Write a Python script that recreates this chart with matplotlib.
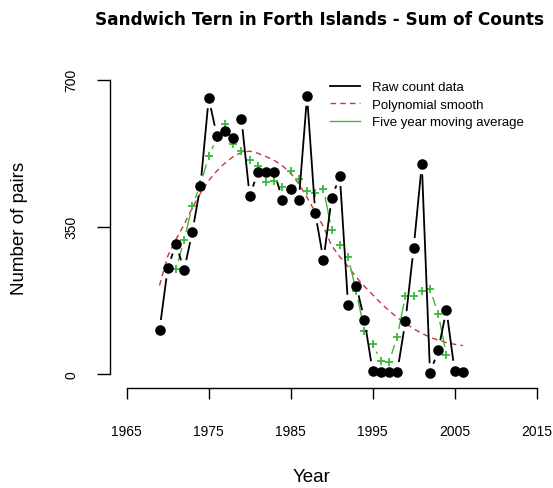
import numpy as np
import matplotlib
matplotlib.use('Agg')
import matplotlib.pyplot as plt
from matplotlib.lines import Line2D

plt.rcParams['font.family'] = ['Liberation Sans', 'DejaVu Sans']

# values
years = list(range(1969, 2007))
raw_counts = [104, 251, 309, 247, 337, 448, 656, 567, 579, 561,
              606, 423, 480, 480, 480, 414, 441, 414, 662, 382,
              271, 418, 471, 164, 210, 128, 6, 4, 4, 4,
              125, 299, 499, 1, 56, 152, 7, 4]
poly_smooth = [210, 280, 320, 355, 395, 430, 460, 483, 502, 517,
               527, 530, 525, 517, 508, 495, 478, 452, 420, 385,
               350, 305, 278, 255, 230, 208, 188, 168, 150, 134,
               120, 107, 96, 87, 80, 74, 70, 67]
ma_years = list(range(1971, 2005))
moving_avg = [249.6, 318.4, 399.4, 451.0, 517.4, 562.2, 593.8, 547.2, 529.8, 510.0,
              493.8, 455.4, 459.0, 445.8, 482.2, 462.6, 434.0, 429.4, 440.8, 341.2,
              306.8, 278.2, 195.8, 102.4, 70.4, 29.2, 28.6, 87.2, 186.2, 185.6,
              196.0, 201.4, 143.0, 44.0]

x_ticks = [1965, 1975, 1985, 1995, 2005, 2015]
y_ticks = [0, 350, 700]

RED = '#cc3344'
GREEN = '#3cb83c'

W, H = 553, 489
fig = plt.figure(figsize=(W / 100, H / 100), dpi=100)
left, right, top, bottom = 109.5, 553, 69, 389
ax = fig.add_axes([left / W, 1 - bottom / H, (right - left) / W, (bottom - top) / H])
ax.set_xlim(1962.9, 2017)
ax.set_ylim(-34, 728)


def gapped_line(ax, x, y, gap, **kw):
    # R type="b": segments stop short of the points
    pts = ax.transData.transform(np.column_stack([x, y]))
    inv = ax.transData.inverted()
    for p, q in zip(pts[:-1], pts[1:]):
        d = q - p
        L = np.hypot(*d)
        if L <= 2 * gap:
            continue
        u = d / L
        a, b = inv.transform([p + u * gap, q - u * gap])
        ax.plot([a[0], b[0]], [a[1], b[1]], **kw)


ax.plot(years, poly_smooth, color=RED, lw=1.0, ls=(0, (4, 3)), zorder=2)
gapped_line(ax, ma_years, moving_avg, 9, color=GREEN, lw=1.0, zorder=3)
ax.plot(ma_years, moving_avg, '+', color=GREEN, ms=6, mew=1.3, zorder=4)
gapped_line(ax, years, raw_counts, 11, color='black', lw=1.3, zorder=5)
ax.plot(years, raw_counts, 'o', color='black', ms=7.6, mew=0, zorder=6)

for s in ['top', 'right']:
    ax.spines[s].set_visible(False)
ax.spines['bottom'].set_bounds(1965, 2015)
ax.spines['left'].set_bounds(0, 700)
ax.spines['bottom'].set_linewidth(1.0)
ax.spines['left'].set_linewidth(1.0)

ax.set_xticks(x_ticks)
ax.set_xticklabels([str(t) for t in x_ticks])
ax.set_yticks(y_ticks)
ax.set_yticklabels([str(t) for t in y_ticks], rotation=90, va='center')
ax.tick_params(axis='x', length=8, width=1, pad=18, labelsize=10)
ax.tick_params(axis='y', length=9.4, width=1, pad=13, labelsize=10)

handles = [Line2D([], [], color='black', lw=1.3),
           Line2D([], [], color=RED, lw=1.0, ls=(0, (4, 3))),
           Line2D([], [], color=GREEN, lw=1.0)]
labels = ['Raw count data', 'Polynomial smooth', 'Five year moving average']
fig.legend(handles, labels, loc='upper left', bbox_to_anchor=(330 / W, 1 - 82 / H),
           frameon=False, fontsize=9.5, handlelength=2.3, handletextpad=0.9,
           labelspacing=0.4, borderpad=0, borderaxespad=0)

fig.text(95 / W, 1 - 20 / H, 'Sandwich Tern in Forth Islands - Sum of Counts',
         ha='left', va='center', fontsize=12.2, fontweight='bold',
         family='DejaVu Sans')
fig.text(20 / W, 1 - 228 / H, 'Number of pairs', rotation=90,
         ha='center', va='center', fontsize=13.5)
fig.text(312 / W, 1 - 478 / H, 'Year', ha='center', va='center', fontsize=13.5)

fig.savefig('out.png', dpi=100)
